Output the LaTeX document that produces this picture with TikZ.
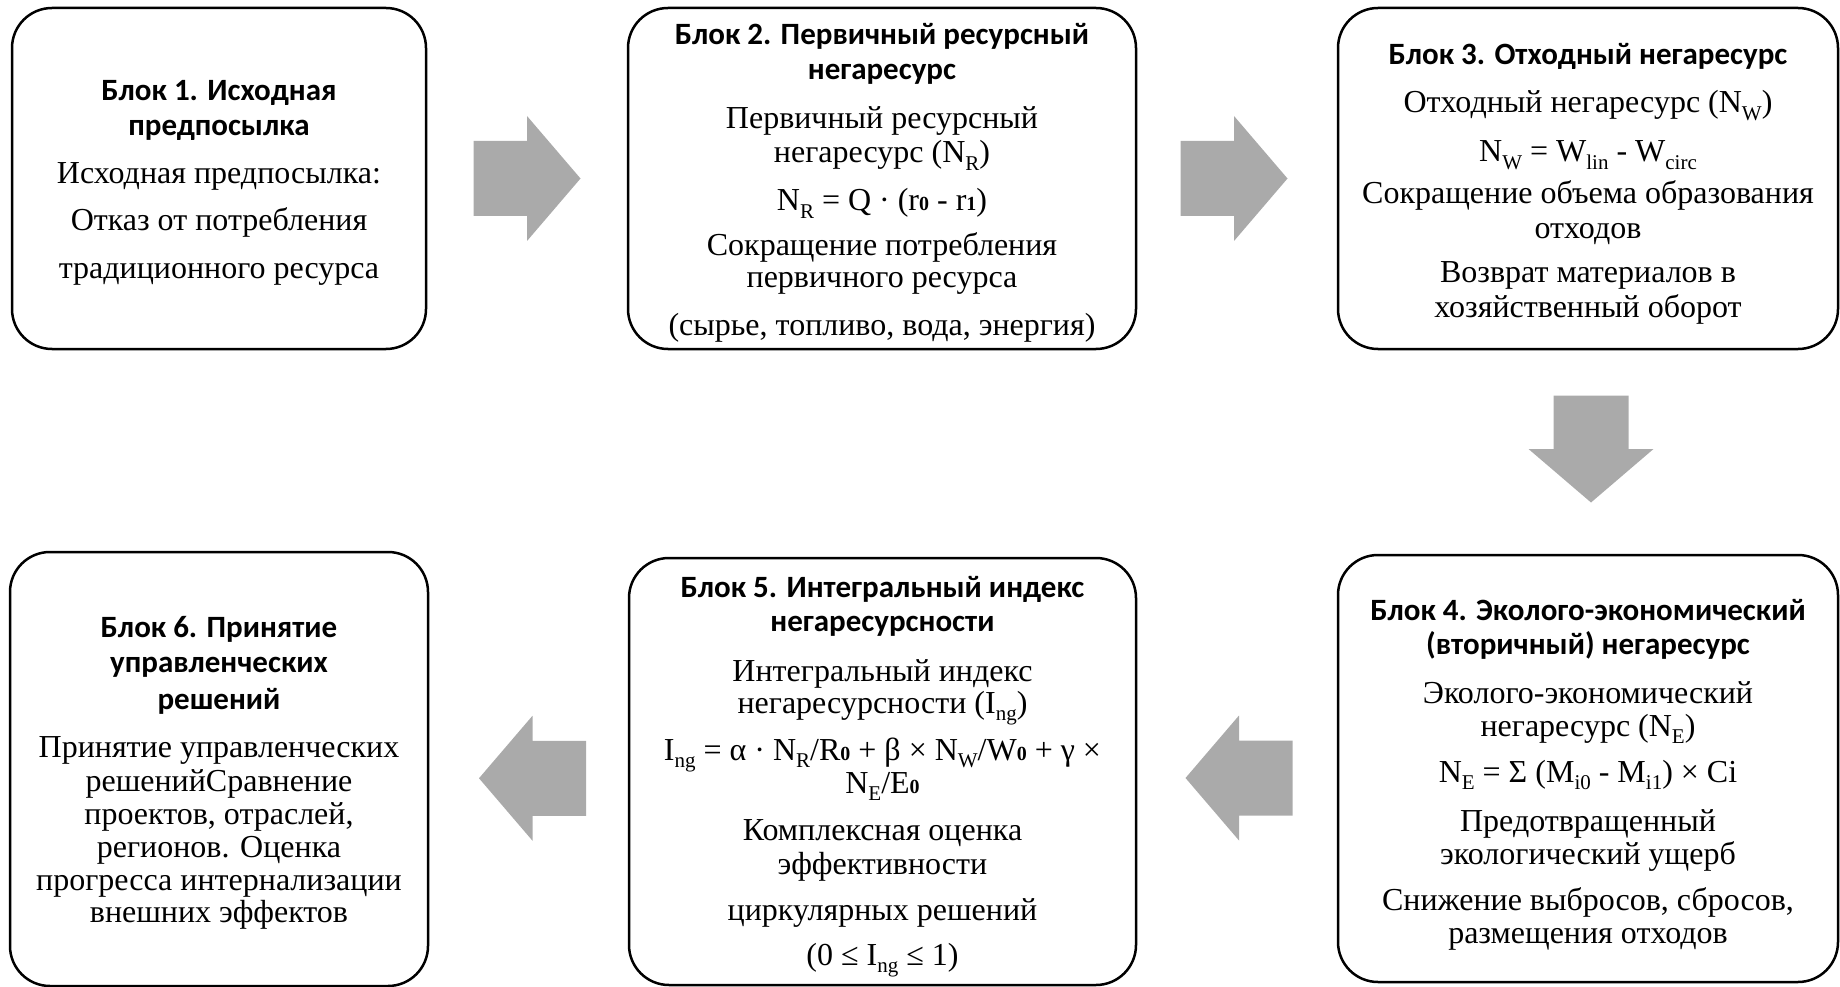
\documentclass[tikz,border=0pt]{standalone}
\usepackage{fontspec}
\setmainfont{Liberation Serif}
\newfontfamily\titlefam{Carlito}
\usetikzlibrary{calc}
\definecolor{arrowgray}{HTML}{AAAAAA}
\newcommand\T{\titlefam\bfseries\fontsize{31}{31}\selectfont}
\newcommand\B{\rmfamily\fontsize{32}{32}\selectfont}
\newcommand\sbs[1]{\raisebox{-0.22em}{\fontsize{21}{21}\selectfont #1}}
\newcommand\zd[1]{{\fontsize{20}{20}\selectfont\bfseries #1}}
\newcommand\g[1]{\noalign{\vskip #1pt}}
\newcommand\stk[1]{\vtop{\baselineskip=0pt\lineskip=0pt\lineskiplimit=-\maxdimen\halign{\hfil##\hfil\cr#1\crcr}}}
\tikzset{
  box/.style={draw=black, line width=2.5pt, rounded corners=40pt, inner sep=0pt},
  txt/.style={anchor=base, inner sep=0pt},
  blockarrow/.pic={\fill[arrowgray] (-53.5,-37.5) -- (0,-37.5) -- (0,-62.5) -- (53.5,0) -- (0,62.5) -- (0,37.5) -- (-53.5,37.5) -- cycle;}
}
\begin{document}
\begin{tikzpicture}[x=1pt,y=-1pt]
\useasboundingbox (0,0) rectangle (1840,987);
% boxes
\node[box, minimum width=414pt, minimum height=341pt] (b1) at (219,178.5) {};
\node[box, minimum width=508pt, minimum height=341pt] (b2) at (882,178.5) {};
\node[box, minimum width=500pt, minimum height=341pt] (b3) at (1588,178.5) {};
\node[box, minimum width=418pt, minimum height=434pt] (b6) at (219,769) {};
\node[box, minimum width=507pt, minimum height=427pt] (b5) at (882.5,771.5) {};
\node[box, minimum width=500pt, minimum height=427pt] (b4) at (1588,768.5) {};
% arrows
\pic at ($(b1.east)!0.5!(b2.west)$) {blockarrow};
\pic at ($(b2.east)!0.5!(b3.west)+(-3,0)$) {blockarrow};
\pic[rotate=-90] at ($(b3.south)!0.5!(b4.north)+(3,-3)$) {blockarrow};
\pic[rotate=180] at ($(b4.west)!0.5!(b5.east)+(2,8)$) {blockarrow};
\pic[rotate=180] at ($(b5.west)!0.5!(b6.east)+(4,8)$) {blockarrow};
% texts
\node[txt] (t1) at (219,101) {\stk{\T Блок 1. Исходная\cr\g{35}\T предпосылка\cr\g{48}\B Исходная предпосылка:\cr\g{47}\B Отказ от потребления\cr\g{48}\B традиционного ресурса}};
\node[txt] (t2) at (882,45) {\stk{\T Блок 2. Первичный ресурсный\cr\g{35}\T негаресурс\cr\g{49}\B Первичный ресурсный\cr\g{34}\B негаресурс (N\sbs{R})\cr\g{48}\B N\sbs{R} = Q · (r\zd{0} - r\zd{1})\cr\g{45}\B Сокращение потребления\cr\g{32}\B первичного ресурса\cr\g{48}\B (сырье, топливо, вода, энергия)}};
\node[txt] (t3) at (1588,65) {\stk{\T Блок 3. Отходный негаресурс\cr\g{48}\B Отходный негаресурс (N\sbs{W})\cr\g{49}\B N\sbs{W} = W\sbs{lin} - W\sbs{circ}\cr\g{42}\B Сокращение объема образования\cr\g{35}\B отходов\cr\g{44}\B Возврат материалов в\cr\g{35}\B хозяйственный оборот}};
\node[txt] (t4) at (1588,620) {\stk{\T Блок 4. Эколого-экономический\cr\g{34}\T (вторичный) негаресурс\cr\g{49}\B Эколого-экономический\cr\g{33}\B негаресурс (N\sbs{E})\cr\g{46}\B N\sbs{E} = Σ (M\sbs{i0} - M\sbs{i1}) × Ci\cr\g{49}\B Предотвращенный\cr\g{33}\B экологический ущерб\cr\g{46}\B Снижение выбросов, сбросов,\cr\g{33}\B размещения отходов}};
\node[txt] (t5) at (882.5,597) {\stk{\T Блок 5. Интегральный индекс\cr\g{34}\T негаресурсности\cr\g{50}\B Интегральный индекс\cr\g{32}\B негаресурсности (I\sbs{ng})\cr\g{47}\B I\sbs{ng} = α · N\sbs{R}/R\zd{0} + β × N\sbs{W}/W\zd{0} + γ ×\cr\g{33}\B N\sbs{E}/E\zd{0}\cr\g{47}\B Комплексная оценка\cr\g{34}\B эффективности\cr\g{46}\B циркулярных решений\cr\g{45}\B (0 ≤ I\sbs{ng} ≤ 1)}};
\node[txt] (t6) at (219,637) {\stk{\T Блок 6. Принятие\cr\g{35}\T управленческих\cr\g{37}\T решений\cr\g{48}\B Принятие управленческих\cr\g{34}\B решенийСравнение\cr\g{33}\B проектов, отраслей,\cr\g{33}\B регионов. Оценка\cr\g{33}\B прогресса интернализации\cr\g{32}\B внешних эффектов}};
\end{tikzpicture}
\end{document}
